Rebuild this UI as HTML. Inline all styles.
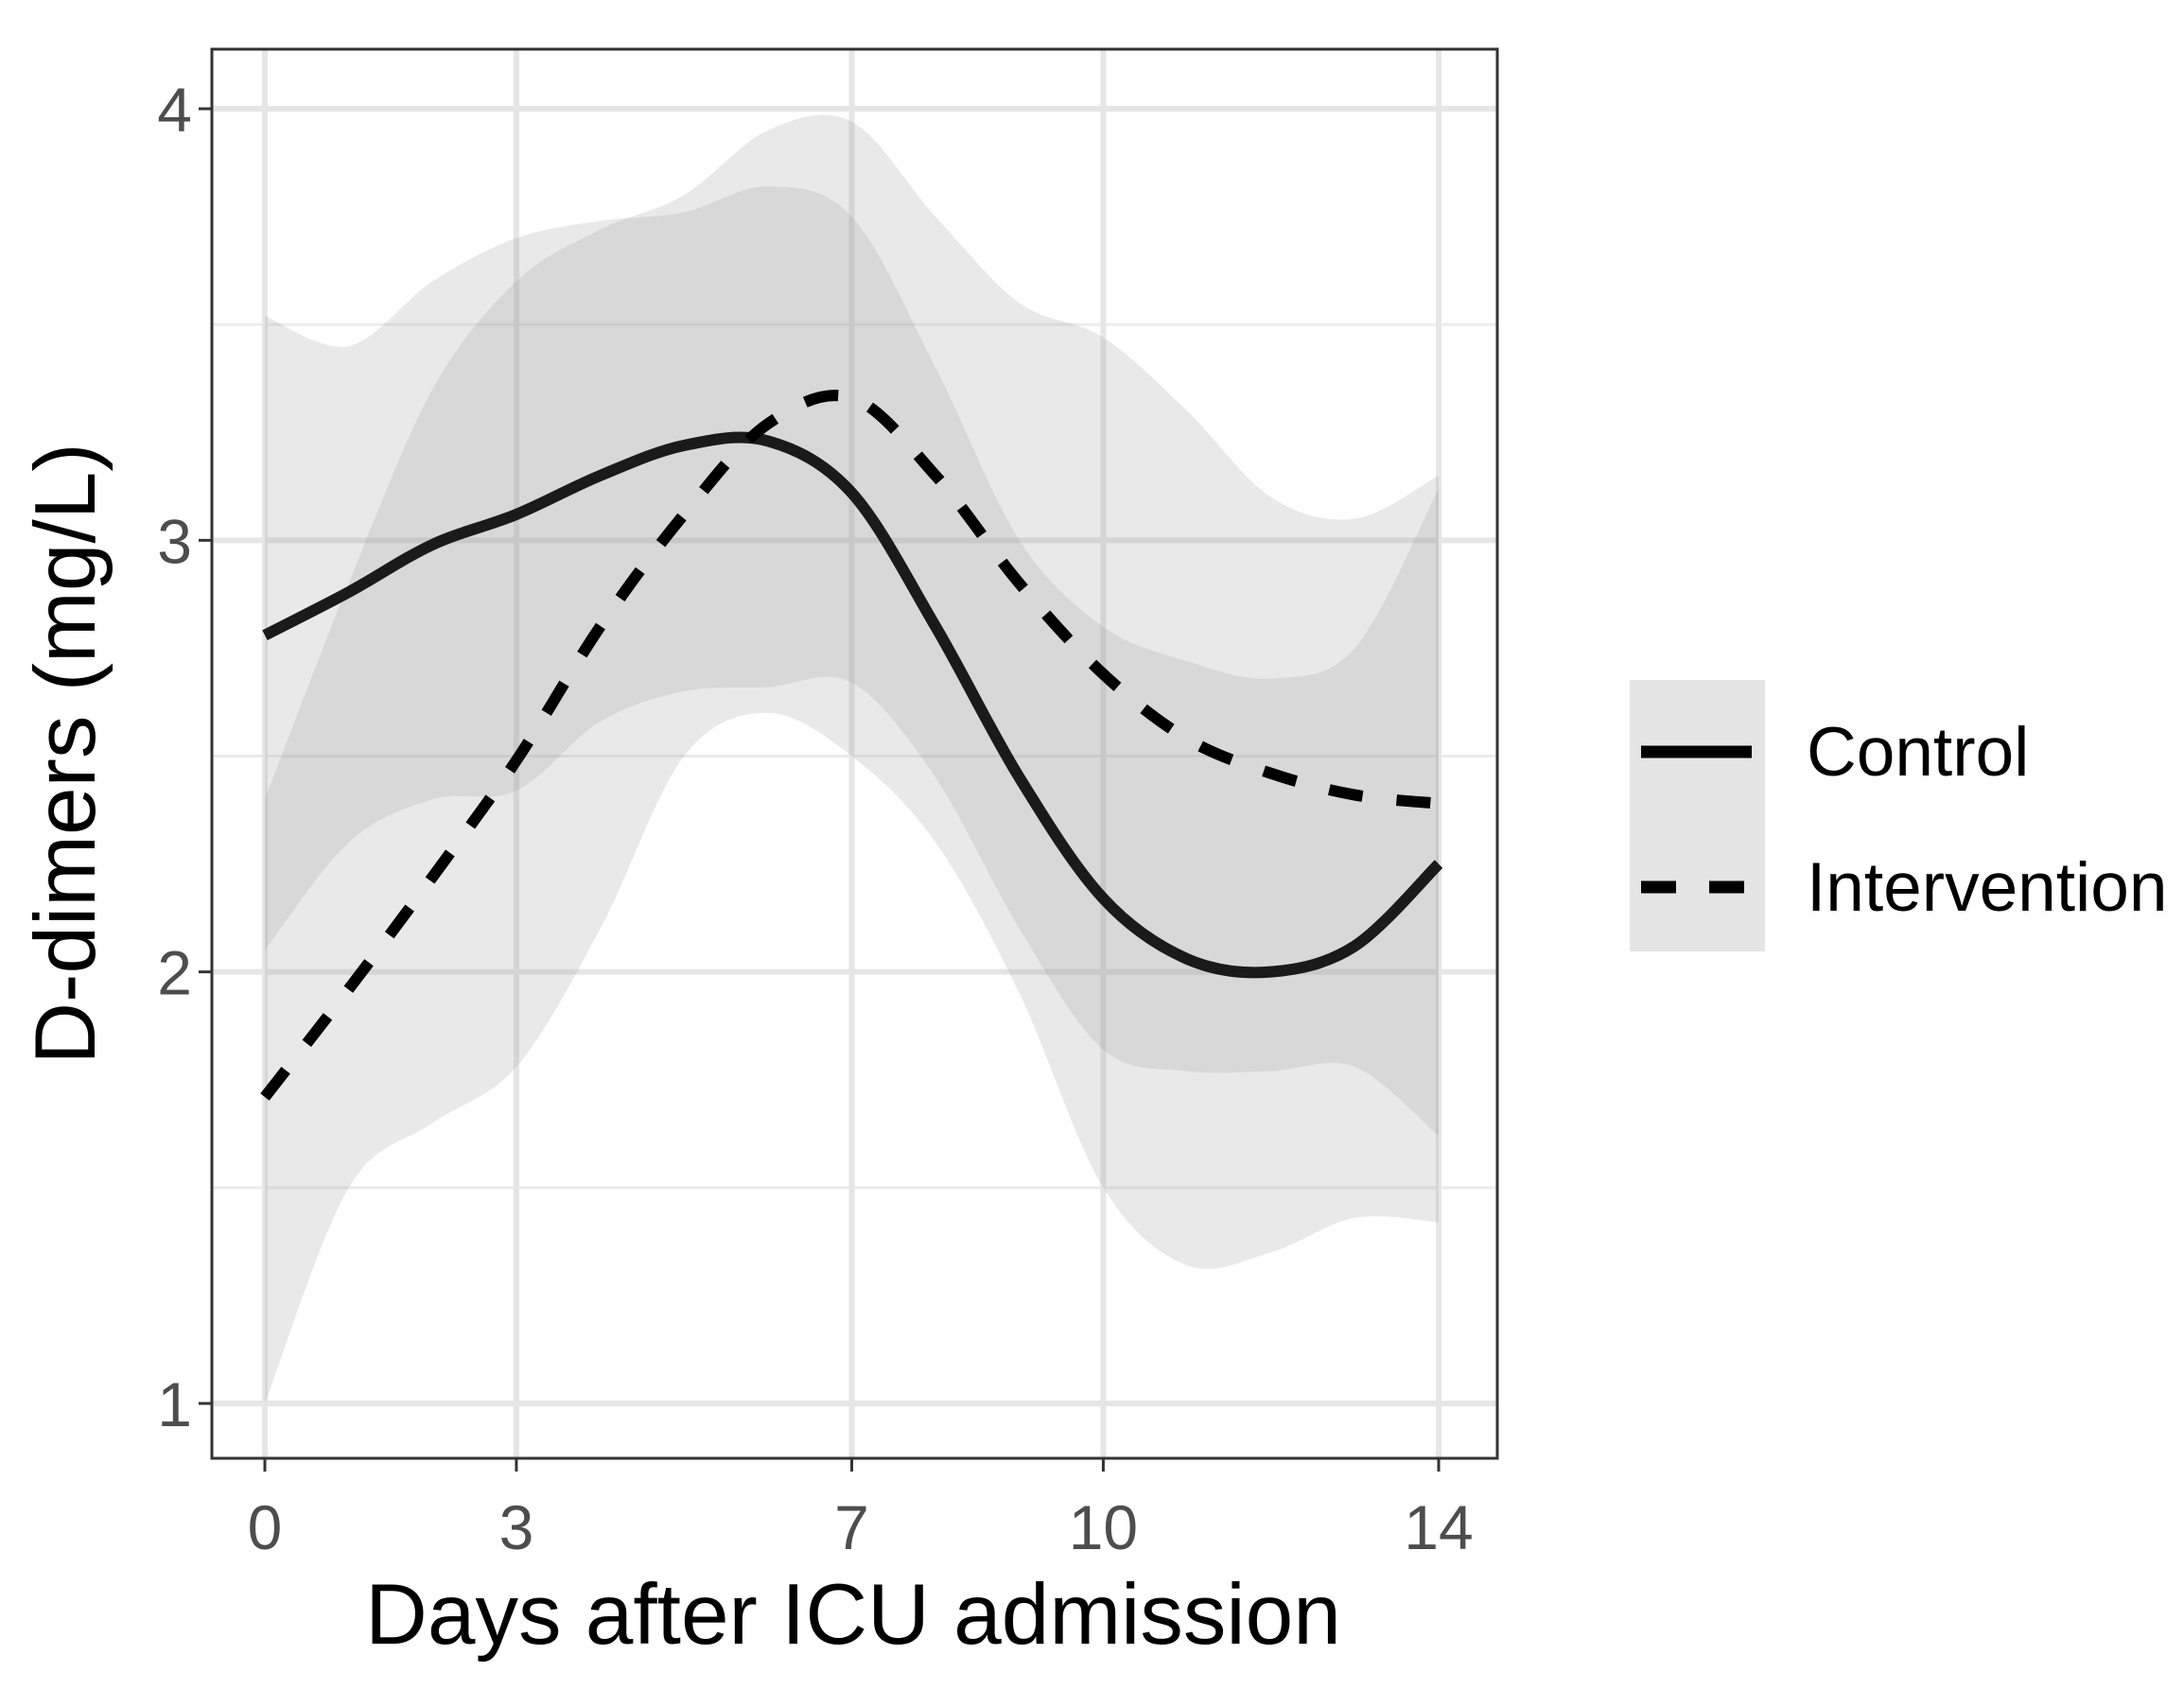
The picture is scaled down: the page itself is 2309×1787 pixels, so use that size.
<!DOCTYPE html>
<html><head><meta charset="utf-8"><style>
html,body{margin:0;padding:0;background:#fff;}
svg{display:block;font-family:"Liberation Sans",Arial,sans-serif;}
</style></head><body>
<svg id="chart" width="2309" height="1787" viewBox="0 0 2309 1787">
<rect x="0" y="0" width="2309" height="1787" fill="#fff"/>
<g id="grid"></g>
<g id="bands"></g>
<g id="lines"></g>
<rect x="224" y="52" width="1359" height="1490" fill="none" stroke="#333" stroke-width="3"/>
<g id="axes"></g>
<text x="902" y="1738" font-size="91" text-anchor="middle" fill="#000">Days after ICU admission</text>
<text transform="translate(100,797) rotate(-90)" font-size="91" text-anchor="middle" fill="#000">D-dimers (mg/L)</text>
<g>
<rect x="1723" y="719" width="143" height="287" fill="#e5e5e5"/>
<line x1="1735" y1="795" x2="1852" y2="795" stroke="#000" stroke-width="13"/>
<line x1="1735" y1="938" x2="1852" y2="938" stroke="#000" stroke-width="13" stroke-dasharray="37,35"/>
<text x="1910" y="820" font-size="73" fill="#000">Control</text>
<text x="1910" y="963" font-size="73" fill="#000">Intervention</text>
</g>
</svg>
<script>
const days = [0,1,2,3,4,5,6,7,8,9,10,11,12,13,14];
const controlMean = [2.78,2.88,2.99,3.06,3.15,3.22,3.23,3.11,2.80,2.45,2.17,2.03,2.00,2.06,2.25];
const controlUpper = [3.52,3.45,3.60,3.70,3.74,3.76,3.82,3.75,3.40,3.00,2.80,2.72,2.68,2.75,3.12];
const controlLower = [2.05,2.30,2.40,2.42,2.58,2.65,2.66,2.67,2.45,2.10,1.82,1.77,1.77,1.78,1.62];
const interventionMean = [1.71,1.96,2.22,2.49,2.80,3.06,3.27,3.33,3.15,2.90,2.69,2.54,2.46,2.41,2.39];
const interventionUpper = [2.40,2.90,3.35,3.60,3.72,3.80,3.95,3.97,3.75,3.55,3.47,3.30,3.10,3.05,3.15];
const interventionLower = [1.00,1.50,1.65,1.78,2.10,2.50,2.60,2.50,2.30,1.95,1.50,1.32,1.35,1.43,1.42];
const xTicks = [0,3,7,10,14];
const yTicks = [1,2,3,4];
const yMinor = [1.5,2.5,3.5];

const NS="http://www.w3.org/2000/svg";
const X = d => 280 + (d-0)*(1521-280)/14;
const Y = v => 1484 - (v-1)*(1484-115)/3;
function mk(tag, attrs, parent){const e=document.createElementNS(NS,tag);for(const k in attrs)e.setAttribute(k,attrs[k]);parent.appendChild(e);return e;}
function pts(xs, ys){return xs.map((d,i)=>[X(d),Y(ys[i])]);}
function smooth(p){
  let s="";
  for(let i=0;i<p.length-1;i++){
    const p0=p[Math.max(i-1,0)],p1=p[i],p2=p[i+1],p3=p[Math.min(i+2,p.length-1)];
    const c1=[p1[0]+(p2[0]-p0[0])/6,p1[1]+(p2[1]-p0[1])/6];
    const c2=[p2[0]-(p3[0]-p1[0])/6,p2[1]-(p3[1]-p1[1])/6];
    s+=` C${c1[0]},${c1[1]} ${c2[0]},${c2[1]} ${p2[0]},${p2[1]}`;
  }
  return s;
}
const grid=document.getElementById('grid');
yMinor.forEach(v=>{
  const l=mk('line',{x1:224,x2:1583,y1:Y(v),y2:Y(v),stroke:'#ebebeb','stroke-width':3},grid);
  
  
});
yTicks.forEach(v=>{
  const l=mk('line',{x1:224,x2:1583,y1:Y(v),y2:Y(v),stroke:'#e6e6e6','stroke-width':6},grid);
  
  
});
xTicks.forEach(d=>{
  const l=mk('line',{x1:X(d),x2:X(d),y1:52,y2:1542,stroke:'#e6e6e6','stroke-width':6},grid);
  
  
});
const bands=document.getElementById('bands');
function band(up,lo,name){
  const u=pts(days,up), l=pts(days,lo).reverse();
  const d=`M${u[0][0]},${u[0][1]}`+smooth(u)+` L${l[0][0]},${l[0][1]}`+smooth(l)+'Z';
  const p=mk('path',{d:d,fill:'#999','fill-opacity':0.22},bands);
  
  
}
band(controlUpper,controlLower,'control-ci-band');
band(interventionUpper,interventionLower,'intervention-ci-band');
const lines=document.getElementById('lines');
function line(m,name,dash){
  const p=pts(days,m);
  const a={d:`M${p[0][0]},${p[0][1]}`+smooth(p),fill:'none',stroke:dash?'#000':'#1a1a1a','stroke-width':12};
  if(dash)a['stroke-dasharray']='36,36';
  const e=mk('path',a,lines);
  
  
}
line(controlMean,'control-line',false);
line(interventionMean,'intervention-line',true);
const axes=document.getElementById('axes');
xTicks.forEach(d=>{
  const t=mk('line',{x1:X(d),x2:X(d),y1:1542,y2:1556,stroke:'#333','stroke-width':3},axes);
  
  
  const tx=mk('text',{x:X(d),y:1638,'font-size':66,'text-anchor':'middle',fill:'#4d4d4d'},axes);
  tx.textContent=d;
  
  
});
yTicks.forEach(v=>{
  const t=mk('line',{x1:210,x2:224,y1:Y(v),y2:Y(v),stroke:'#333','stroke-width':3},axes);
  
  
  const tx=mk('text',{x:203,y:Y(v)+24,'font-size':66,'text-anchor':'end',fill:'#4d4d4d'},axes);
  tx.textContent=v;
  
  
});
</script>
</body></html>
